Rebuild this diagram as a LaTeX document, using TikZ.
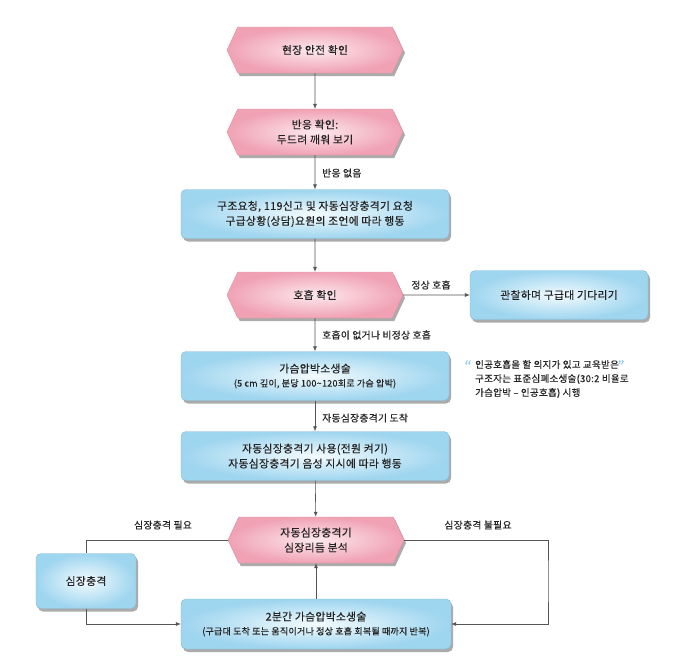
\documentclass[tikz,border=0pt]{standalone}
\usepackage{fontspec}
\setmainfont{Noto Sans CJK KR}[FakeBold=0.3, LetterSpace=3]
\usetikzlibrary{shapes.symbols,shadows,arrows.meta}
\definecolor{pinkout}{HTML}{F0A2B4}
\definecolor{pinkin}{HTML}{FDE9EF}
\definecolor{pinkedge}{HTML}{E58FA3}
\definecolor{blueout}{HTML}{9ED5EF}
\definecolor{bluein}{HTML}{F3FBFE}
\definecolor{blueedge}{HTML}{86BAD3}
\definecolor{lineg}{HTML}{555555}
\definecolor{txt}{HTML}{222222}
\definecolor{quoteblue}{HTML}{8ECBE8}
\newcommand\mysubsize{\fontsize{9}{11}\selectfont}
\tikzset{
  hexbox/.style={signal, signal to=west and east, signal pointer angle=130,
    minimum width=176pt, minimum height=46pt, inner sep=0pt,
    shading=radial, inner color=pinkin, outer color=pinkout,
    draw=pinkedge, line width=0.4pt,
    drop shadow={shadow xshift=2pt, shadow yshift=-3pt, fill=black!60, opacity=0.55},
    align=center, font=\fontsize{10.8}{15}\selectfont, text=txt},
  roundbox/.style={rectangle, rounded corners=5pt, minimum width=268pt, minimum height=49pt,
    inner sep=2pt, shading=radial, inner color=bluein, outer color=blueout,
    draw=blueedge, line width=0.4pt,
    drop shadow={shadow xshift=2pt, shadow yshift=-3pt, fill=black!60, opacity=0.55},
    align=center, font=\fontsize{10.8}{15}\selectfont, text=txt},
  conn/.style={draw=lineg, line width=0.6pt, -{Latex[length=5pt,width=4pt]}},
  plain/.style={draw=lineg, line width=0.6pt},
  lbl/.style={font=\fontsize{9.8}{12}\selectfont, text=txt, inner sep=0pt},
  quotemark/.style={font=\fontsize{15}{15}\selectfont, text=quoteblue, inner sep=0pt},
}
\begin{document}
\begin{tikzpicture}[x=1pt,y=-1pt]
\useasboundingbox[fill=white] (0,0) rectangle (683,665);

\node[hexbox] (h1) at (315,50) {현장 안전 확인};
\node[hexbox] (h2) at (315,132) {반응 확인:\\두드려 깨워 보기};
\node[roundbox] (b3) at (315,214) {구조요청, 119신고 및 자동심장충격기 요청\\구급상황(상담)요원의 조언에 따라 행동};
\node[hexbox] (h3) at (315,295) {호흡 확인};
\node[roundbox, minimum width=178pt] (side) at (559,295) {관찰하며 구급대 기다리기};
\node[roundbox] (b4) at (315,376) {가슴압박소생술\\[-1pt]{\mysubsize (5 cm 깊이, 분당 100\textasciitilde120회로 가슴 압박)}};
\node[roundbox] (b5) at (315,456) {자동심장충격기 사용(전원 켜기)\\자동심장충격기 음성 지시에 따라 행동};
\node[hexbox] (h5) at (316,540) {자동심장충격기\\심장리듬 분석};
\node[roundbox, minimum width=100pt, minimum height=55pt] (shock) at (86,581) {심장충격};
\node[roundbox, minimum width=270pt, minimum height=50pt] (b6) at (316,624) {2분간 가슴압박소생술\\[-1pt]{\mysubsize (구급대 도착 또는 움직이거나 정상 호흡 회복될 때까지 반복)}};

\coordinate (rc) at (548,580);

\draw[conn] (h1) -- (h2);
\draw[conn] (h2) -- (b3);
\draw[conn] (b3) -- (h3);
\draw[conn] (h3) -- (side);
\draw[conn] (h3) -- (b4);
\draw[conn] (b4) -- (b5);
\draw[conn] (b5) -- (h5);
\draw[plain] (h5.west) -| (shock.north);
\draw[conn] (shock.south) |- (b6.west);
\draw[conn] (h5.east) -| (rc) |- (b6.east);
\draw[conn] (b6) -- (h5);

\node[lbl, anchor=west] (l1) at (322,173) {반응 없음};
\node[lbl] (l2) at (431,285) {정상 호흡};
\node[lbl, anchor=west] (l3) at (322,335) {호흡이 없거나 비정상 호흡};
\node[lbl, anchor=west] (l4) at (322,418) {자동심장충격기 도착};
\node[lbl] (l5) at (163,525) {심장충격 필요};
\node[lbl] (l6) at (478,525) {심장충격 불필요};

\node[lbl, anchor=west, align=left, font=\fontsize{9.5}{14}\selectfont] (note) at (475,379)
  {인공호흡을 할 의지가 있고 교육받은\\구조자는 표준심폐소생술(30:2 비율로\\가슴압박 – 인공호흡) 시행};
\node[quotemark] (q1) at (468,366) {“};
\node[quotemark] (q2) at (621,366) {”};
\end{tikzpicture}
\end{document}
